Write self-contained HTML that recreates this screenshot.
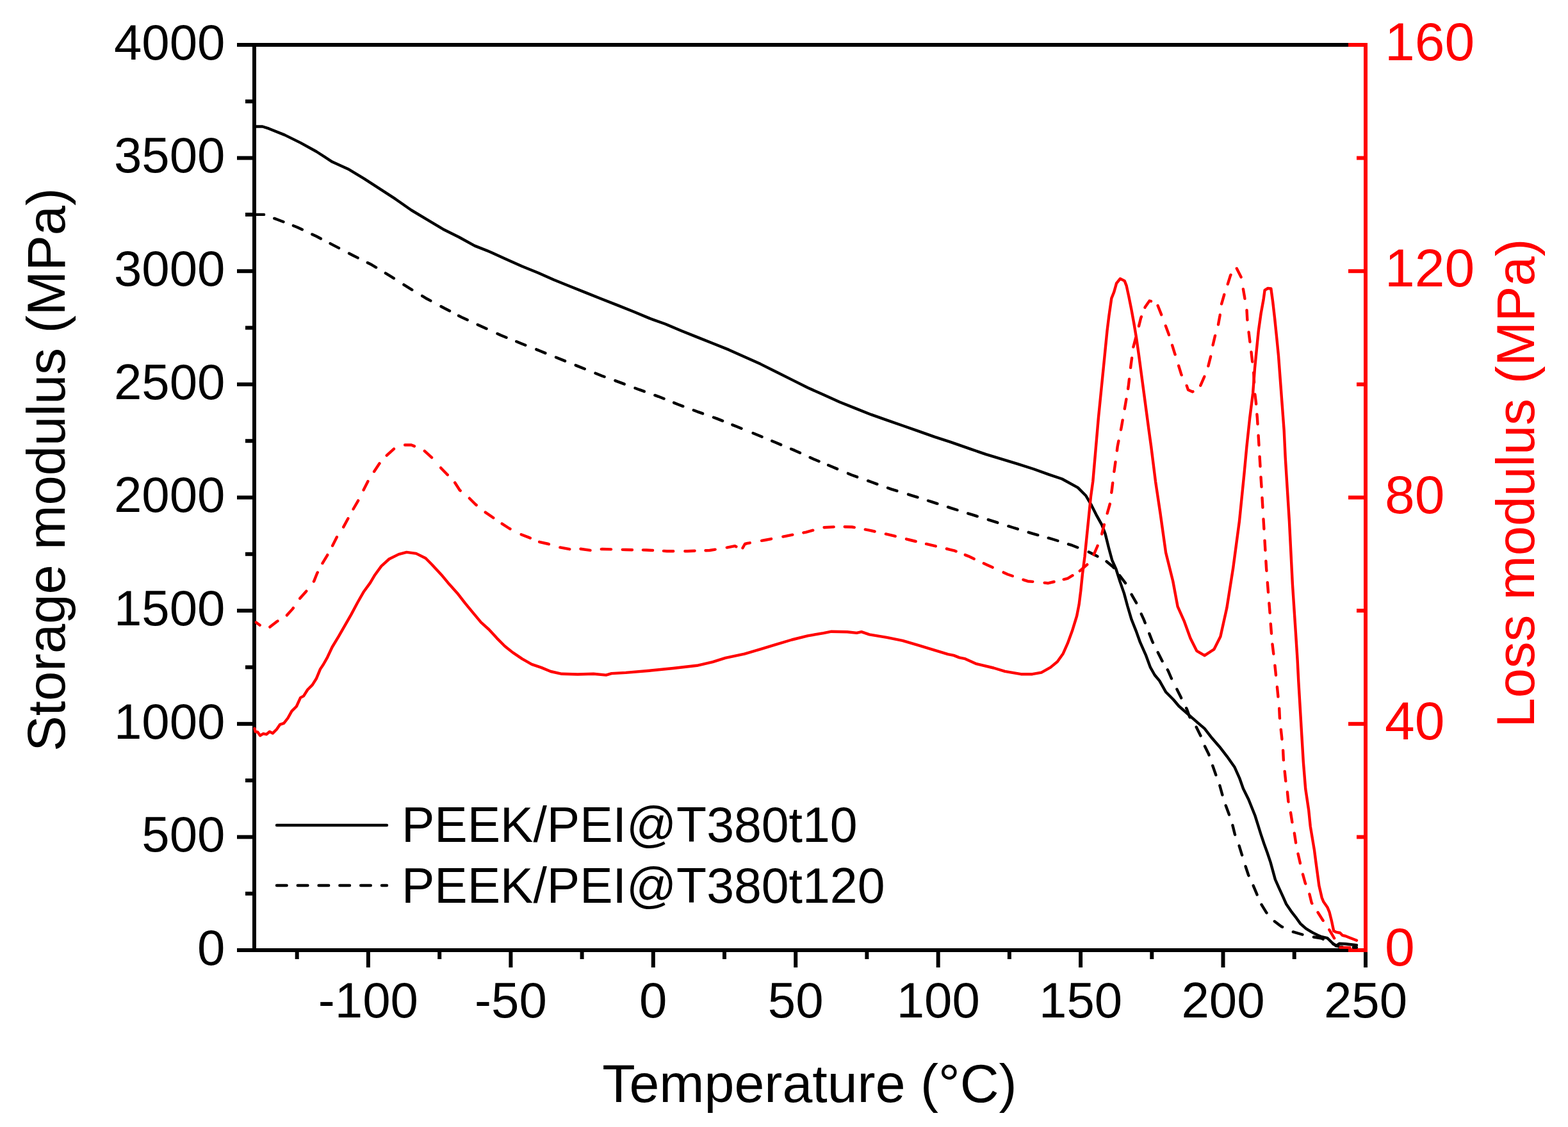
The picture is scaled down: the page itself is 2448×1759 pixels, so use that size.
<!DOCTYPE html>
<html><head><meta charset="utf-8"><title>DMA plot</title>
<style>html,body{margin:0;padding:0;background:#fff;overflow:hidden}
svg{display:block}
text{font-family:"Liberation Sans",Arial,sans-serif}</style></head>
<body><svg width="2448" height="1759" viewBox="0 0 2448 1759">
<rect width="2448" height="1759" fill="#fff"/>
<rect x="370" y="67" width="1765" height="6" fill="#000"/>
<rect x="370" y="1480" width="1765" height="6" fill="#000"/>
<rect x="394" y="67" width="6" height="1419" fill="#000"/>
<rect x="370" y="1480.0" width="27" height="6" fill="#000"/>
<rect x="370" y="1303.4" width="27" height="6" fill="#000"/>
<rect x="370" y="1126.8" width="27" height="6" fill="#000"/>
<rect x="370" y="950.1" width="27" height="6" fill="#000"/>
<rect x="370" y="773.5" width="27" height="6" fill="#000"/>
<rect x="370" y="596.9" width="27" height="6" fill="#000"/>
<rect x="370" y="420.2" width="27" height="6" fill="#000"/>
<rect x="370" y="243.6" width="27" height="6" fill="#000"/>
<rect x="370" y="67.0" width="27" height="6" fill="#000"/>
<rect x="383" y="1391.7" width="14" height="6" fill="#000"/>
<rect x="383" y="1215.1" width="14" height="6" fill="#000"/>
<rect x="383" y="1038.4" width="14" height="6" fill="#000"/>
<rect x="383" y="861.8" width="14" height="6" fill="#000"/>
<rect x="383" y="685.2" width="14" height="6" fill="#000"/>
<rect x="383" y="508.6" width="14" height="6" fill="#000"/>
<rect x="383" y="331.9" width="14" height="6" fill="#000"/>
<rect x="383" y="155.3" width="14" height="6" fill="#000"/>
<rect x="571.9" y="1483" width="6" height="27" fill="#000"/>
<rect x="794.4" y="1483" width="6" height="27" fill="#000"/>
<rect x="1016.8" y="1483" width="6" height="27" fill="#000"/>
<rect x="1239.2" y="1483" width="6" height="27" fill="#000"/>
<rect x="1461.7" y="1483" width="6" height="27" fill="#000"/>
<rect x="1684.1" y="1483" width="6" height="27" fill="#000"/>
<rect x="1906.5" y="1483" width="6" height="27" fill="#000"/>
<rect x="2129.0" y="1483" width="6" height="27" fill="#000"/>
<rect x="460.7" y="1483" width="6" height="14" fill="#000"/>
<rect x="683.2" y="1483" width="6" height="14" fill="#000"/>
<rect x="905.6" y="1483" width="6" height="14" fill="#000"/>
<rect x="1128.0" y="1483" width="6" height="14" fill="#000"/>
<rect x="1350.4" y="1483" width="6" height="14" fill="#000"/>
<rect x="1572.9" y="1483" width="6" height="14" fill="#000"/>
<rect x="1795.3" y="1483" width="6" height="14" fill="#000"/>
<rect x="2017.7" y="1483" width="6" height="14" fill="#000"/>
<rect x="2129" y="67" width="6" height="1419" fill="#f00"/>
<rect x="2105" y="1480.0" width="27" height="6" fill="#f00"/>
<rect x="2105" y="1126.8" width="27" height="6" fill="#f00"/>
<rect x="2105" y="773.5" width="27" height="6" fill="#f00"/>
<rect x="2105" y="420.2" width="27" height="6" fill="#f00"/>
<rect x="2105" y="67.0" width="27" height="6" fill="#f00"/>
<rect x="2118" y="1303.4" width="14" height="6" fill="#f00"/>
<rect x="2118" y="950.1" width="14" height="6" fill="#f00"/>
<rect x="2118" y="596.9" width="14" height="6" fill="#f00"/>
<rect x="2118" y="243.6" width="14" height="6" fill="#f00"/>
<text x="351.5" y="1505.8" font-size="78" text-anchor="end">0</text>
<text x="351.5" y="1329.2" font-size="78" text-anchor="end">500</text>
<text x="351.5" y="1152.5" font-size="78" text-anchor="end">1000</text>
<text x="351.5" y="975.9" font-size="78" text-anchor="end">1500</text>
<text x="351.5" y="799.3" font-size="78" text-anchor="end">2000</text>
<text x="351.5" y="622.7" font-size="78" text-anchor="end">2500</text>
<text x="351.5" y="446.1" font-size="78" text-anchor="end">3000</text>
<text x="351.5" y="269.4" font-size="78" text-anchor="end">3500</text>
<text x="351.5" y="92.8" font-size="78" text-anchor="end">4000</text>
<text x="574.9" y="1588.2" font-size="78" text-anchor="middle">-100</text>
<text x="797.4" y="1588.2" font-size="78" text-anchor="middle">-50</text>
<text x="1019.8" y="1588.2" font-size="78" text-anchor="middle">0</text>
<text x="1242.2" y="1588.2" font-size="78" text-anchor="middle">50</text>
<text x="1464.7" y="1588.2" font-size="78" text-anchor="middle">100</text>
<text x="1687.1" y="1588.2" font-size="78" text-anchor="middle">150</text>
<text x="1909.5" y="1588.2" font-size="78" text-anchor="middle">200</text>
<text x="2132.0" y="1588.2" font-size="78" text-anchor="middle">250</text>
<text x="2162" y="1507.0" font-size="84" fill="#f00">0</text>
<text x="2162" y="1153.8" font-size="84" fill="#f00">40</text>
<text x="2162" y="800.5" font-size="84" fill="#f00">80</text>
<text x="2162" y="447.2" font-size="84" fill="#f00">120</text>
<text x="2162" y="94.0" font-size="84" fill="#f00">160</text>
<text transform="translate(101 733) rotate(-90)" font-size="83.3" text-anchor="middle">Storage modulus (MPa)</text>
<text transform="translate(2395 754) rotate(-90)" font-size="83.2" text-anchor="middle" fill="#f00">Loss modulus (MPa)</text>
<text x="1264" y="1720" font-size="84.3" text-anchor="middle">Temperature (°C)</text>
<line x1="432" y1="1288" x2="604" y2="1288" stroke="#000" stroke-width="4.4" stroke-linecap="round"/>
<line x1="432" y1="1382" x2="604" y2="1382" stroke="#000" stroke-width="4.4" stroke-linecap="round" stroke-dasharray="15.6 17.2"/>
<text x="627" y="1314" font-size="77">PEEK/PEI@T380t10</text>
<text x="627" y="1409" font-size="77">PEEK/PEI@T380t120</text>
<path d="M400.0 197.5 L409.8 197.5 L419.7 200.7 L444.4 210.6 L469.2 222.9 L493.9 236.5 L518.6 252.6 L543.3 263.7 L568.1 278.6 L592.8 294.6 L617.5 310.7 L642.2 328.0 L667.0 342.9 L691.7 357.7 L716.4 370.0 L741.1 383.6 L765.9 393.5 L790.6 404.7 L815.3 415.8 L840.0 425.7 L864.8 436.8 L889.5 446.7 L914.2 456.6 L938.9 466.5 L964.7 476.6 L989.4 486.5 L1014.2 496.9 L1038.9 505.8 L1063.6 516.2 L1088.3 526.1 L1113.1 536.0 L1137.8 545.9 L1162.5 557.0 L1187.2 568.1 L1212.0 580.5 L1236.7 592.9 L1261.4 605.2 L1286.1 616.3 L1310.9 627.5 L1335.6 637.4 L1360.3 647.2 L1385.0 655.9 L1409.8 664.5 L1434.5 673.2 L1459.2 681.9 L1483.9 689.8 L1514.7 700.6 L1539.4 709.2 L1564.2 716.6 L1588.9 724.1 L1613.6 732.0 L1638.3 740.9 L1658.1 747.5 L1682.9 761.1 L1695.2 773.5 L1704.2 788.9 L1711.3 803.1 L1720.2 819.1 L1725.6 833.4 L1730.9 854.7 L1736.2 874.3 L1742.5 888.5 L1748.7 908.1 L1754.9 925.9 L1760.2 945.5 L1766.5 966.8 L1773.6 984.6 L1780.0 1002.4 L1789.2 1023.2 L1796.0 1041.7 L1802.7 1053.5 L1810.3 1062.7 L1820.3 1080.3 L1832.0 1092.0 L1840.4 1102.0 L1853.8 1113.8 L1868.9 1127.2 L1880.6 1137.2 L1892.4 1152.3 L1904.1 1165.7 L1915.8 1180.8 L1927.6 1197.6 L1935.1 1214.3 L1941.0 1231.1 L1949.3 1247.8 L1959.4 1273.0 L1963.6 1286.4 L1968.6 1302.3 L1973.6 1317.2 L1978.5 1330.7 L1983.5 1345.6 L1987.2 1359.1 L1990.9 1372.7 L1997.0 1386.3 L2003.2 1399.9 L2008.1 1411.0 L2015.6 1422.1 L2024.2 1433.2 L2030.4 1441.9 L2039.0 1449.3 L2048.9 1455.4 L2057.5 1459.8 L2063.7 1462.2 L2072.3 1464.1 L2079.8 1471.5 L2085.9 1476.4 L2090.9 1472.7 L2100.7 1473.3 L2118.0 1475.2" fill="none" stroke="#000" stroke-width="4.4" stroke-linejoin="round" stroke-linecap="round"/>
<path d="M400.0 334.9 L412.1 334.9 M428.3 340.9 L433.3 342.8 L442.5 346.3 M457.9 352.3 L464.2 354.7 L471.8 358.3 M487.3 365.7 L493.9 368.8 L500.9 372.5 M515.6 380.1 L522.3 383.6 L529.1 387.1 M545.0 395.5 L550.8 398.5 L558.6 402.4 M573.8 410.0 L580.4 413.3 L587.1 417.3 M601.9 426.4 L608.9 430.6 L614.9 434.4 M630.4 444.3 L636.1 447.9 L643.3 452.3 M659.1 461.9 L664.5 465.2 L672.3 469.4 M688.5 478.2 L694.2 481.3 L702.0 485.3 M716.0 492.7 L722.6 496.1 L729.7 499.3 M745.7 506.7 L752.3 509.7 L759.5 513.0 M776.5 520.8 L781.9 523.3 L790.5 526.8 M806.2 533.0 L812.8 535.7 L820.3 538.7 M837.3 545.4 L843.8 548.0 L851.4 551.1 M868.0 557.7 L882.1 563.4 M898.7 570.1 L912.8 575.8 M929.5 582.5 L940.0 586.7 L943.6 588.0 M960.4 594.1 L967.2 596.6 L974.7 599.4 M991.5 605.7 L998.1 608.2 L1005.8 610.9 M1022.4 616.9 L1027.8 618.8 L1036.6 622.3 M1052.1 628.6 L1058.7 631.2 L1066.3 634.1 M1082.8 640.2 L1088.3 642.3 L1097.1 645.4 M1114.0 651.5 L1119.3 653.4 L1128.1 656.9 M1143.4 663.1 L1150.2 665.8 L1157.5 668.7 M1175.6 676.0 L1181.1 678.2 L1189.6 681.7 M1205.2 688.2 L1210.7 690.5 L1219.2 694.1 M1235.1 700.7 L1240.4 702.9 L1249.0 706.8 M1264.7 714.0 L1270.1 716.5 L1278.6 720.0 M1293.1 726.0 L1299.7 728.8 L1307.1 731.9 M1324.0 738.9 L1329.4 741.2 L1338.2 744.4 M1355.1 750.4 L1360.3 752.3 L1369.4 755.6 M1386.0 761.5 L1391.2 763.4 L1400.4 766.2 M1418.0 771.6 L1423.4 773.3 L1432.5 776.2 M1449.0 781.5 L1454.3 783.2 L1463.4 786.1 M1480.0 791.4 L1485.2 793.1 L1494.5 796.0 M1511.2 801.3 L1517.2 803.2 L1525.7 805.8 M1542.8 811.1 L1549.3 813.1 L1557.3 815.7 M1574.4 821.2 L1580.2 823.0 L1588.9 825.7 M1605.7 830.8 L1612.4 832.9 L1620.3 835.1 M1636.8 839.7 L1643.3 841.5 L1651.4 844.0 M1668.0 849.3 L1674.0 851.2 L1682.3 854.5 M1699.8 861.5 L1711.3 867.2 L1713.4 868.4 M1727.5 876.3 L1738.0 885.0 L1738.9 886.2 M1747.9 898.1 L1748.7 899.2 L1757.1 910.1 M1766.6 927.9 L1773.6 940.1 L1774.1 941.1 M1781.8 958.3 L1785.5 966.4 L1787.8 972.3 M1794.3 988.9 L1799.0 1001.0 L1800.0 1002.9 M1807.7 1018.3 L1813.9 1030.6 L1814.6 1031.8 M1822.8 1045.3 L1823.7 1046.8 L1828.7 1058.5 L1829.0 1059.1 M1837.4 1075.8 L1843.8 1088.6 L1844.2 1089.4 M1852.1 1105.3 L1853.0 1107.1 L1857.2 1118.8 L1857.6 1119.5 M1867.7 1134.8 L1874.5 1148.4 M1881.0 1164.8 L1887.3 1177.5 L1887.6 1178.5 M1893.2 1195.1 L1898.2 1209.3 L1898.3 1209.5 M1904.3 1226.0 L1908.3 1240.3 L1908.4 1240.7 M1913.7 1257.3 L1919.0 1271.6 M1924.4 1288.1 L1927.9 1302.3 L1928.1 1302.8 M1934.6 1320.1 L1939.0 1334.4 L1939.1 1334.6 M1944.6 1352.2 L1948.9 1365.3 L1949.5 1366.6 M1956.7 1382.4 L1962.5 1396.2 L1962.6 1396.4 M1969.5 1411.9 L1977.3 1424.6 L1977.5 1424.8 M1989.8 1438.0 L2000.7 1446.2 L2002.1 1446.8 M2018.8 1454.4 L2032.8 1458.5 L2033.4 1458.6 M2050.9 1462.5 L2063.7 1464.7 L2065.7 1465.7 M2081.2 1473.3 L2090.9 1477.7 L2095.5 1477.9 M2112.8 1478.7 L2118.0 1478.9" fill="none" stroke="#000" stroke-width="4.4" stroke-linejoin="round" stroke-linecap="round"/>
<path d="M397.5 1137.0 L398.7 1142.0 L402.4 1142.7 L406.1 1148.1 L411.0 1145.2 L416.0 1146.2 L420.9 1142.0 L425.9 1144.4 L432.0 1138.3 L437.0 1130.9 L443.1 1128.9 L449.3 1121.0 L455.5 1109.9 L462.9 1102.5 L469.1 1088.9 L474.0 1086.4 L480.2 1076.5 L487.6 1069.1 L493.8 1059.3 L500.0 1044.4 L504.9 1037.0 L511.2 1025.8 L518.6 1010.0 L528.5 993.7 L538.4 976.4 L548.3 959.1 L558.2 940.5 L568.1 923.2 L578.0 909.6 L585.4 897.2 L595.3 883.6 L607.6 872.5 L622.5 865.1 L634.8 861.9 L649.7 863.9 L664.5 871.3 L674.4 881.2 L689.2 897.2 L701.6 912.1 L713.9 925.7 L726.3 941.7 L738.7 956.6 L751.0 971.4 L763.4 982.5 L775.8 996.1 L788.1 1008.5 L800.5 1018.4 L815.3 1028.3 L830.2 1036.9 L845.0 1041.9 L859.8 1048.0 L877.1 1051.8 L901.9 1052.5 L926.6 1051.8 L946.2 1053.6 L954.8 1051.1 L977.0 1049.9 L1014.1 1046.7 L1051.1 1043.0 L1088.1 1038.8 L1112.8 1033.1 L1132.6 1026.9 L1162.2 1020.7 L1186.9 1013.3 L1211.6 1005.9 L1236.3 998.5 L1261.0 992.3 L1285.7 988.1 L1298.0 985.7 L1322.7 986.2 L1337.5 987.9 L1344.9 986.2 L1357.3 990.4 L1384.4 994.8 L1409.1 999.8 L1433.8 1007.2 L1458.5 1014.6 L1480.0 1021.1 L1488.9 1022.9 L1497.8 1026.4 L1506.7 1028.2 L1524.5 1036.2 L1551.2 1042.5 L1569.0 1047.8 L1593.9 1052.2 L1611.7 1052.2 L1625.9 1049.6 L1640.1 1041.6 L1650.8 1032.7 L1659.7 1020.2 L1666.8 1004.2 L1674.0 984.6 L1681.1 961.5 L1684.6 943.7 L1687.3 922.3 L1690.0 895.7 L1693.5 869.0 L1696.2 842.3 L1699.8 806.7 L1703.0 775.0 L1706.3 751.3 L1711.0 697.1 L1714.9 652.3 L1718.8 613.4 L1722.7 574.5 L1725.6 545.3 L1728.5 516.2 L1731.4 492.8 L1735.3 465.6 L1739.2 455.9 L1743.1 442.2 L1748.9 435.0 L1755.7 438.4 L1758.7 446.1 L1762.5 463.6 L1766.4 483.1 L1770.3 504.5 L1774.2 527.8 L1778.1 555.1 L1782.0 584.2 L1785.9 613.4 L1789.8 642.6 L1793.7 671.8 L1797.2 697.1 L1804.0 751.3 L1811.4 800.7 L1820.1 862.5 L1831.2 907.0 L1838.6 946.6 L1848.5 968.8 L1858.4 996.0 L1868.3 1015.8 L1880.6 1023.2 L1895.5 1013.3 L1905.4 993.6 L1915.3 949.1 L1925.1 887.2 L1935.0 813.1 L1942.5 738.9 L1946.4 697.1 L1951.2 652.3 L1956.1 613.4 L1959.0 574.5 L1961.9 545.3 L1964.8 516.2 L1968.7 488.9 L1972.6 467.5 L1974.6 452.9 L1979.4 450.0 L1984.3 450.4 L1987.2 471.4 L1990.1 496.7 L1993.1 525.9 L1996.0 555.1 L1998.9 594.0 L2001.8 632.9 L2004.7 671.8 L2006.7 714.2 L2012.9 813.1 L2017.9 912.0 L2022.8 986.1 L2025.6 1030.0 L2027.3 1063.5 L2029.8 1105.4 L2032.3 1147.3 L2034.8 1189.2 L2038.2 1231.1 L2043.2 1264.6 L2045.8 1290.0 L2048.9 1308.5 L2052.0 1327.0 L2054.4 1345.6 L2056.9 1364.1 L2059.4 1382.6 L2063.7 1401.1 L2066.2 1407.3 L2072.3 1415.9 L2075.4 1423.3 L2079.1 1438.1 L2082.2 1453.0 L2085.9 1454.8 L2092.1 1456.0 L2095.8 1459.8 L2100.7 1461.0 L2106.9 1463.5 L2118.0 1467.8" fill="none" stroke="#f00" stroke-width="4.4" stroke-linejoin="round" stroke-linecap="round"/>
<path d="M399.9 971.4 L405.7 975.7 M421.4 978.6 L432.1 970.2 L433.5 969.4 M447.9 960.3 L456.8 950.4 L457.9 948.9 M468.2 934.0 L477.8 923.2 L478.3 922.6 M489.9 907.5 L490.2 907.1 L495.1 894.8 L495.8 893.5 M503.5 879.2 L503.8 878.7 L511.2 866.3 L511.3 866.1 M519.1 851.8 L525.9 838.2 M536.2 822.6 L543.3 809.5 L543.4 809.3 M551.6 794.5 L559.2 781.4 M567.6 764.7 L574.3 751.4 L574.4 751.2 M584.1 736.0 L592.5 723.3 M603.7 710.9 L615.0 700.7 M632.1 694.5 L642.2 694.5 L646.9 696.4 M662.8 703.9 L674.1 714.1 M688.2 730.2 L697.9 740.2 L698.8 741.1 M710.2 753.3 L717.7 765.0 L718.7 765.8 M732.9 777.7 L742.4 787.2 L743.7 788.3 M757.8 799.6 L769.6 807.7 L770.3 808.2 M783.7 817.3 L795.5 825.0 L796.5 825.5 M813.7 834.3 L826.4 839.1 L827.8 839.8 M842.1 845.8 L856.1 849.0 L856.9 849.3 M874.4 854.4 L889.3 857.2 M906.5 856.7 L921.5 858.9 M938.8 857.1 L940.0 857.0 L954.0 857.4 M971.8 857.9 L977.0 858.0 L987.0 858.2 M1003.9 858.4 L1009.1 858.5 L1019.1 859.0 M1036.0 859.9 L1041.2 860.2 L1051.2 860.2 M1069.4 860.2 L1073.3 860.2 L1084.6 859.8 M1101.5 859.2 L1107.9 859.0 L1116.6 857.6 M1134.8 854.6 L1137.5 854.1 L1147.4 852.1 L1149.4 853.2 M1159.5 855.3 L1163.0 849.0 L1167.2 847.9 L1170.8 847.3 M1189.1 843.9 L1194.3 843.0 L1204.1 841.1 M1222.4 837.6 L1226.4 836.8 L1237.3 834.7 M1254.4 831.4 L1258.5 830.6 L1269.2 827.7 M1286.6 823.2 L1301.7 822.4 M1318.7 822.2 L1330.1 822.5 L1333.8 823.2 M1350.8 826.4 L1357.3 827.7 L1365.6 829.5 M1382.9 833.4 L1389.4 834.8 L1397.7 836.9 M1415.0 841.3 L1421.5 843.0 L1429.7 845.0 M1446.0 848.9 L1452.3 850.4 L1460.8 852.4 M1477.9 856.5 L1483.2 857.8 L1490.7 859.7 L1492.6 860.5 M1506.8 866.1 L1512.0 868.1 L1520.7 872.2 M1535.8 879.3 L1542.3 882.3 L1549.6 885.6 M1566.7 893.4 L1573.4 896.5 L1580.8 899.0 M1597.5 904.8 L1604.6 907.2 L1612.3 907.9 M1630.7 909.6 L1636.6 910.2 L1645.6 908.0 M1660.7 904.3 L1666.8 902.8 L1674.5 898.2 M1685.8 891.1 L1697.1 881.4 L1697.3 881.2 M1707.6 865.6 L1707.8 865.4 L1713.1 853.0 L1713.6 851.7 M1720.2 833.5 L1720.2 833.4 L1723.8 819.1 L1723.9 818.8 M1728.7 801.2 L1732.7 787.1 L1732.8 786.6 M1735.3 768.8 L1736.0 763.6 L1737.2 753.8 M1739.4 736.0 L1739.7 734.0 L1741.5 720.9 M1743.9 703.2 L1744.7 696.9 L1746.4 688.2 M1750.0 670.7 L1750.9 666.0 L1752.7 655.7 M1755.8 638.0 L1756.7 632.9 L1758.4 623.0 M1761.1 606.9 L1761.6 603.7 L1763.0 591.8 M1765.1 573.9 L1765.5 570.6 L1767.1 558.8 M1769.4 541.5 L1769.4 541.5 L1773.3 526.9 M1778.0 509.0 L1781.0 496.7 L1781.9 494.4 M1787.5 480.0 L1787.8 479.2 L1794.6 469.5 L1797.0 470.2 M1807.6 477.0 L1813.1 490.9 L1813.2 491.2 M1819.8 508.5 L1824.8 522.0 L1825.0 522.7 M1830.1 538.8 L1834.5 553.1 L1834.6 553.3 M1840.1 570.8 L1844.2 584.2 L1844.7 585.2 M1852.7 601.9 L1855.0 608.6 L1861.8 611.5 L1862.4 611.1 M1874.3 601.7 L1880.2 588.1 L1880.3 587.7 M1886.4 571.3 L1890.0 557.0 L1890.1 556.5 M1893.6 538.6 L1896.8 524.9 L1897.1 523.9 M1902.0 506.5 L1904.5 492.8 L1904.7 491.5 M1907.1 474.3 L1911.3 459.8 L1911.3 459.7 M1916.8 443.4 L1921.1 429.6 L1921.5 429.0 M1930.8 419.0 L1937.6 432.5 L1937.6 432.5 M1940.9 451.1 L1943.4 465.6 L1943.5 466.1 M1946.5 484.1 L1947.3 498.7 L1947.4 499.3 M1949.6 518.4 L1951.2 531.7 L1951.4 533.5 M1953.5 549.5 L1955.1 563.8 L1955.2 564.6 M1957.2 581.6 L1958.0 596.7 M1959.3 615.5 L1961.0 629.0 L1961.1 630.6 M1962.4 646.7 L1962.9 652.3 L1963.5 661.8 M1964.6 679.8 L1965.5 694.9 M1966.6 712.7 L1967.5 727.8 M1968.5 744.7 L1969.5 759.9 M1970.5 776.9 L1971.4 792.0 M1972.5 810.3 L1973.4 825.4 L1973.4 825.5 M1974.5 843.7 L1975.4 858.9 M1976.4 875.8 L1977.1 887.2 L1977.4 890.9 M1978.8 909.2 L1980.0 924.3 M1981.4 941.5 L1982.0 949.1 L1982.6 956.6 M1983.8 973.6 L1985.0 988.7 M1986.5 1005.5 L1988.3 1020.6 M1990.4 1038.6 L1992.0 1053.7 M1993.9 1072.3 L1995.4 1087.0 L1995.4 1087.4 M1997.2 1105.8 L1997.9 1120.5 L1998.0 1121.0 M1999.8 1138.6 L2001.3 1152.3 L2001.4 1153.7 M2003.1 1171.2 L2003.8 1185.0 L2003.9 1186.4 M2005.7 1203.9 L2007.2 1218.5 L2007.3 1219.0 M2009.9 1236.3 L2011.3 1250.3 L2011.5 1251.4 M2015.0 1268.3 L2017.2 1282.2 L2017.4 1283.3 M2020.8 1300.4 L2023.0 1314.7 L2023.1 1315.4 M2026.5 1332.6 L2029.8 1346.8 L2029.9 1347.4 M2034.0 1364.6 L2037.8 1378.3 L2038.2 1379.2 M2044.4 1395.4 L2047.7 1409.1 L2048.3 1410.0 M2057.5 1424.0 L2064.9 1435.7 L2065.6 1436.8 M2075.3 1451.2 L2082.2 1462.8 L2083.1 1464.3 M2092.2 1478.9 L2107.4 1478.9" fill="none" stroke="#f00" stroke-width="4.4" stroke-linejoin="round" stroke-linecap="round"/>
</svg></body></html>
